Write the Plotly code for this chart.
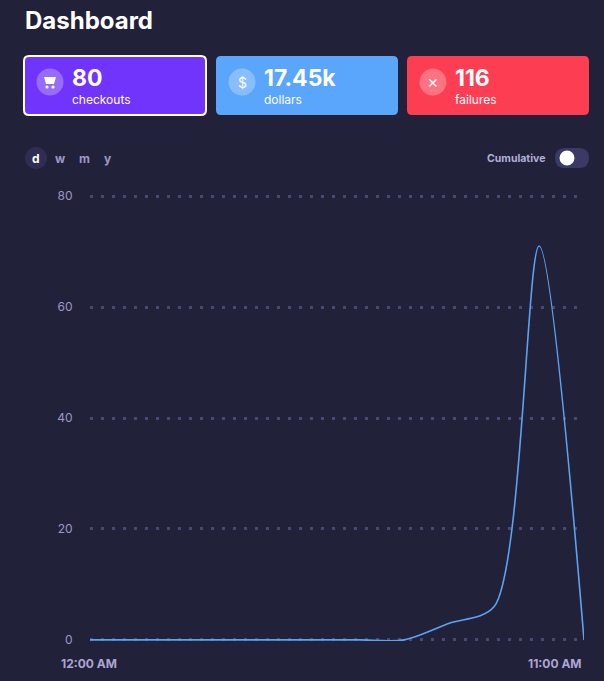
import plotly.graph_objects as go

# hourly checkouts for today
hours = [0, 1, 2, 3, 4, 5, 6, 7, 8, 9, 10, 11]
checkouts = [0, 0, 0, 0, 0, 0, 0, 0, 3, 6, 71, 0]
x_labels = ["12:00 AM", "11:00 AM"]
x_label_pos = [0, 11]

card_values = ["80", "17.45k", "116"]
card_names = ["checkouts", "dollars", "failures"]
card_colors = ["#7034fd", "#5ba6fd", "#fd3d51"]
icons = ["", "$", "✕"]

periods = ["d", "w", "m", "y"]

W, H = 604, 681
L, R, T, B = 90, 584, 195, 641
bg = "#22213a"
font = "Inter"


def px(x):
    return (x - L) / (R - L)


def py(y):
    return (B - y) / (B - T)


def rounded(x0, y0, x1, y1, r):
    # rounded rect as svg path in paper coords (pixel input)
    pts = [
        f"M{px(x0 + r)},{py(y0)}",
        f"L{px(x1 - r)},{py(y0)}",
        f"Q{px(x1)},{py(y0)} {px(x1)},{py(y0 + r)}",
        f"L{px(x1)},{py(y1 - r)}",
        f"Q{px(x1)},{py(y1)} {px(x1 - r)},{py(y1)}",
        f"L{px(x0 + r)},{py(y1)}",
        f"Q{px(x0)},{py(y1)} {px(x0)},{py(y1 - r)}",
        f"L{px(x0)},{py(y0 + r)}",
        f"Q{px(x0)},{py(y0)} {px(x0 + r)},{py(y0)}",
        "Z",
    ]
    return " ".join(pts)


def circle(cx, cy, r, color):
    return dict(type="circle", xref="paper", yref="paper",
                x0=px(cx - r), x1=px(cx + r), y0=py(cy + r), y1=py(cy - r),
                fillcolor=color, line=dict(width=0), layer="above")


def label(x, y, text, size, color="white", anchor="left", bold=False):
    if bold:
        text = "<b>" + text + "</b>"
    return dict(x=px(x), y=py(y), xref="paper", yref="paper", text=text,
                showarrow=False, xanchor=anchor, yanchor="middle",
                font=dict(family=font, size=size, color=color))


fig = go.Figure()
fig.add_trace(go.Scatter(
    x=hours, y=checkouts, mode="lines",
    line=dict(color="#5aa4f4", width=1.6, shape="spline", smoothing=0.8),
    hoverinfo="skip", cliponaxis=True,
))

shapes = []
annotations = []

annotations.append(label(23, 20, "Dashboard", 24, bold=True))

card_x = [24, 216, 407]
for i in range(3):
    x0 = card_x[i]
    x1 = x0 + 182
    shapes.append(dict(type="path", xref="paper", yref="paper",
                       path=rounded(x0, 56, x1, 115, 5),
                       fillcolor=card_colors[i],
                       line=dict(color="white" if i == 0 else card_colors[i], width=2 if i == 0 else 0),
                       layer="above"))
    shapes.append(circle(x0 + 26, 82, 13.5, "rgba(255,255,255,0.28)"))
    annotations.append(label(x0 + 46, 78, card_values[i], 23, bold=True))
    annotations.append(label(x0 + 46, 99, card_names[i], 12))
    if icons[i]:
        annotations.append(label(x0 + 26, 83, icons[i], 14, anchor="center"))

# little cart icon
cx, cy = 50, 82
shapes.append(dict(type="path", xref="paper", yref="paper",
                   path=f"M{px(cx-6)},{py(cy-5)} L{px(cx+6)},{py(cy-5)} L{px(cx+4)},{py(cy+2)} "
                        f"L{px(cx-4)},{py(cy+2)} Z",
                   fillcolor="white", line=dict(width=0), layer="above"))
shapes.append(circle(cx - 3, cy + 5, 1.6, "white"))
shapes.append(circle(cx + 3, cy + 5, 1.6, "white"))

# period selector
shapes.append(circle(36, 158, 11, "#2f2e52"))
period_x = [36, 60, 84, 108]
for p, xx in zip(periods, period_x):
    annotations.append(label(xx, 158, p, 12, color="white" if p == "d" else "#9d97c9",
                             anchor="center", bold=True))

# cumulative toggle
annotations.append(label(547, 158, "Cumulative", 10.5, color="#b3aed6", anchor="right", bold=True))
shapes.append(dict(type="path", xref="paper", yref="paper",
                   path=rounded(555, 148, 589, 168, 10),
                   fillcolor="#3b3a66", line=dict(width=0), layer="above"))
shapes.append(circle(567, 158, 7.5, "white"))

for t, xv in zip(x_labels, x_label_pos):
    annotations.append(dict(x=xv, y=py(663), xref="x", yref="paper", text="<b>" + t + "</b>",
                            showarrow=False, xanchor="center" if xv == 0 else "right",
                            xshift=-1 if xv == 0 else 0, yanchor="middle",
                            font=dict(family=font, size=12, color="#aca6d4")))

fig.update_layout(
    width=W, height=H,
    margin=dict(l=L, r=W - R, t=T, b=H - B),
    paper_bgcolor=bg, plot_bgcolor=bg,
    showlegend=False,
    shapes=shapes, annotations=annotations,
    xaxis=dict(range=[0, 11], showgrid=False, zeroline=False, showticklabels=False,
               showline=False, fixedrange=True),
    yaxis=dict(range=[-0.2, 80.2], tickvals=[0, 20, 40, 60, 80], showgrid=True,
               gridcolor="#4a4873", griddash="3px,8px", gridwidth=2.5, zeroline=False,
               ticks="outside", ticklen=14, tickcolor=bg, showline=False,
               tickfont=dict(family=font, size=12, color="#9d97c9"), fixedrange=True),
)

fig.write_html("out.html", config={"displayModeBar": False},
               post_script="document.body.style.margin='0';")
